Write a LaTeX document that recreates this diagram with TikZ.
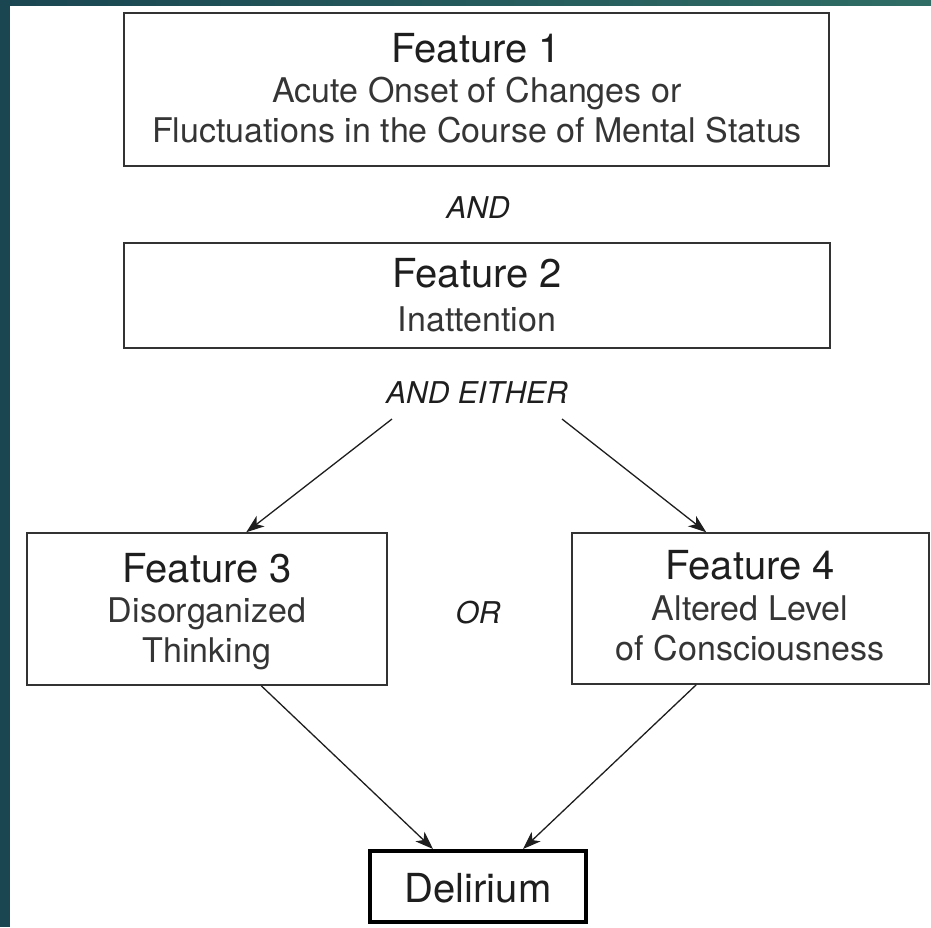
\documentclass[tikz,border=0pt]{standalone}
\usepackage{fontspec}
\setmainfont{TeX Gyre Heros}
\usetikzlibrary{arrows.meta}
\definecolor{tealA}{HTML}{1A4652}
\definecolor{tealB}{HTML}{2F6D65}
\definecolor{ink}{HTML}{1E1E1E}
\definecolor{boxline}{HTML}{333333}
\newcommand{\hdfont}{\fontsize{40}{44}\selectfont}
\newcommand{\sbfont}{\fontsize{34}{40}\selectfont}
\newcommand{\lbfont}{\fontsize{30}{34}\selectfont\itshape}
\begin{document}
\begin{tikzpicture}[x=1pt,y=-1pt,
  box/.style={draw=boxline, line width=1.5pt, inner sep=0pt, minimum width=#1},
  txt/.style={anchor=base, inner sep=0pt, text=ink},
  hd/.style={txt, font=\hdfont},
  sb/.style={txt, font=\sbfont, text=ink!90},
  lb/.style={txt, font=\lbfont},
  arr/.style={draw=ink, line width=1.3pt, -{Stealth[length=18pt,width=13pt,inset=5pt]}}
]
\useasboundingbox (0,0) rectangle (931,927);
% background frame
\fill[left color=tealA, right color=tealB] (0,0) rectangle (931,5);
\fill[tealA] (0,0) rectangle (10,927);

% boxes
\node[box=705pt, minimum height=153pt] (b1) at (476.5,89.5) {};
\node[box=706pt, minimum height=105pt] (b2) at (477,295.5) {};
\node[box=360pt, minimum height=152pt] (b3) at (207,609) {};
\node[box=357pt, minimum height=151pt] (b4) at (750.5,608.5) {};
\node[draw=black, line width=4pt, inner sep=0pt, minimum width=216pt, minimum height=71pt] (del) at (478,886.5) {};

% box texts
\node[hd] (t1a) at (476,62) {Feature 1};
\node[sb] (t1b) at (477,102) {Acute Onset of Changes or};
\node[sb] (t1c) at (477,142) {Fluctuations in the Course of Mental Status};
\node[hd] (t2a) at (477,287.5) {Feature 2};
\node[sb] (t2b) at (477,331) {Inattention};
\node[hd] (t3a) at (207,582) {Feature 3};
\node[sb] (t3b) at (207,622) {Disorganized};
\node[sb] (t3c) at (207,662) {Thinking};
\node[hd] (t4a) at (750,579) {Feature 4};
\node[sb] (t4b) at (750,620) {Altered Level};
\node[sb] (t4c) at (750,660) {of Consciousness};
\node[hd] (tdel) at (478,902) {Delirium};

% connective labels
\node[lb] (and1) at (478,218) {AND};
\node[lb] (andeither) at (477,403) {AND EITHER};
\node[lb] (or) at (478,623) {OR};

% connectors
\coordinate (s3) at (392,419);
\coordinate (s4) at (562,419);
\draw[arr] (s3) -- ([xshift=220pt]b3.north west);
\draw[arr] (s4) -- ([xshift=135pt]b4.north west);
\draw[arr] ([xshift=235pt]b3.south west) -- ([xshift=-45pt]del.north);
\draw[arr] ([xshift=125pt]b4.south west) -- ([xshift=45pt]del.north);
\end{tikzpicture}
\end{document}
